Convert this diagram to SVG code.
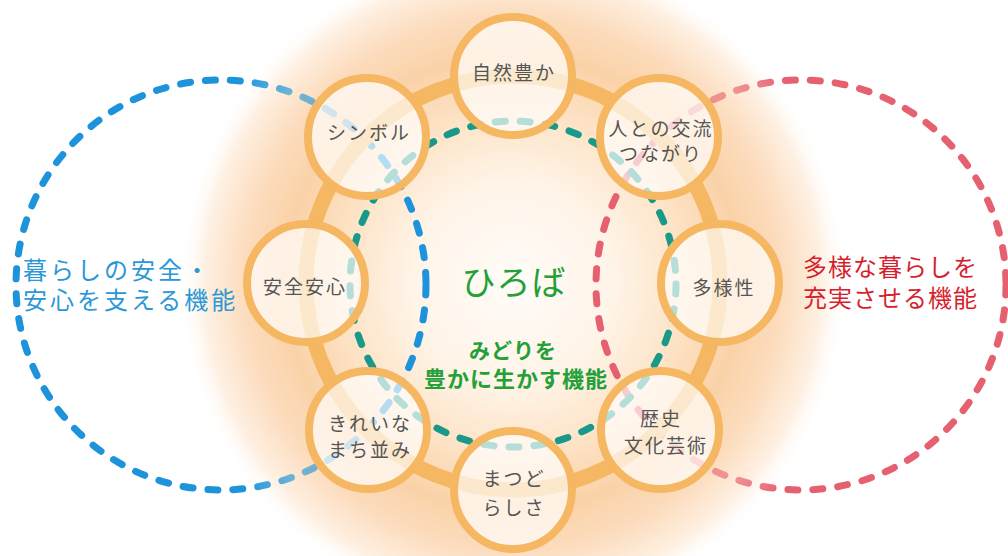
<svg xmlns="http://www.w3.org/2000/svg" width="1008" height="556" viewBox="0 0 1008 556">
  <defs>
    <radialGradient id="glow" cx="513" cy="283" r="335" gradientUnits="userSpaceOnUse">
      <stop offset="0" stop-color="#fffcf8"/>
      <stop offset="0.3" stop-color="#fff4e8"/>
      <stop offset="0.5" stop-color="#fde4c8"/>
      <stop offset="0.68" stop-color="#fad2a8"/>
      <stop offset="0.8" stop-color="#fcdcbd"/>
      <stop offset="0.92" stop-color="#fef0e2"/>
      <stop offset="1" stop-color="#ffffff" stop-opacity="0"/>
    </radialGradient>
    <radialGradient id="fadeGrad" cx="513" cy="283" r="340" gradientUnits="userSpaceOnUse">
      <stop offset="0" stop-color="#ffffff"/>
      <stop offset="0.56" stop-color="#ffffff"/>
      <stop offset="0.68" stop-color="#a0a0a0"/>
      <stop offset="0.86" stop-color="#a0a0a0"/>
      <stop offset="1" stop-color="#ffffff"/>
    </radialGradient>
    <mask id="fade" maskUnits="userSpaceOnUse" x="0" y="0" width="1008" height="556">
      <rect width="1008" height="556" fill="url(#fadeGrad)"/>
    </mask>
  </defs>
  <style>
    .dash { fill: none; stroke-width: 7; stroke-linecap: round; stroke-dasharray: 10 15; }
    .blue { stroke: #1c93da; }
    .red { stroke: #e6616f; }
    .teal { stroke: #19998a; }
    .ring { fill: none; stroke: #f5b762; stroke-width: 15; }
    .node circle { fill: #ffffff; fill-opacity: 0.68; stroke: #f5b762; stroke-width: 8; }
    .node text { font-family: "Noto Sans CJK JP", "Noto Sans", sans-serif; font-size: 19px; fill: #555555; text-anchor: middle; letter-spacing: 2px; }
    .big { font-family: "Noto Sans CJK JP", "Noto Sans", sans-serif; font-size: 24px; letter-spacing: 3px; }
    .green { fill: #23a038; font-family: "Noto Sans CJK JP", "Noto Sans", sans-serif; text-anchor: middle; }
  </style>
  <rect width="1008" height="556" fill="#ffffff"/>
  <circle cx="513" cy="283" r="335" fill="url(#glow)"/>

  <g id="connectors">
    <g mask="url(#fade)">
      <circle class="dash blue" cx="221" cy="285" r="205"/>
      <circle class="dash red" cx="801" cy="285" r="205"/>
    </g>
    <circle class="dash teal" cx="513" cy="284" r="163"/>
    <circle class="ring" cx="513" cy="283" r="207"/>
  </g>

  <g id="node-shizen" class="node">
    <circle cx="513" cy="76" r="59"/>
    <text x="514" y="80">自然豊か</text>
  </g>
  <g id="node-symbol" class="node">
    <circle cx="367" cy="137" r="59"/>
    <text x="369" y="140">シンボル</text>
  </g>
  <g id="node-koryu" class="node">
    <circle cx="659" cy="137" r="59"/>
    <text x="661" y="136">人との交流</text>
    <text x="661" y="161">つながり</text>
  </g>
  <g id="node-anzen" class="node">
    <circle cx="306" cy="283" r="59"/>
    <text x="305" y="294">安全安心</text>
  </g>
  <g id="node-tayosei" class="node">
    <circle cx="720" cy="283" r="59"/>
    <text x="724" y="295">多様性</text>
  </g>
  <g id="node-machinami" class="node">
    <circle cx="368" cy="430" r="59"/>
    <text x="370" y="431">きれいな</text>
    <text x="370" y="457">まち並み</text>
  </g>
  <g id="node-rekishi" class="node">
    <circle cx="660" cy="430" r="59"/>
    <text x="661" y="426">歴史</text>
    <text x="666" y="453">文化芸術</text>
  </g>
  <g id="node-matsudo" class="node">
    <circle cx="513" cy="490" r="59"/>
    <text x="514" y="486">まつど</text>
    <text x="514" y="515">らしさ</text>
  </g>

  <g id="label-left">
    <text class="big" x="23" y="279" fill="#2a98d6">暮らしの安全・</text>
    <text class="big" x="23" y="309" fill="#2a98d6">安心を支える機能</text>
  </g>
  <g id="label-right">
    <text class="big" x="803" y="276" fill="#d61f2e" style="letter-spacing:1px">多様な暮らしを</text>
    <text class="big" x="803" y="307" fill="#d61f2e" style="letter-spacing:1px">充実させる機能</text>
  </g>
  <g id="label-center">
    <text class="green" x="514" y="295" style="font-size:34px;letter-spacing:1px">ひろば</text>
    <text class="green" x="513" y="358" style="font-size:21px;font-weight:bold;letter-spacing:1px">みどりを</text>
    <text class="green" x="516" y="387" style="font-size:22px;font-weight:bold;letter-spacing:1px">豊かに生かす機能</text>
  </g>
</svg>
